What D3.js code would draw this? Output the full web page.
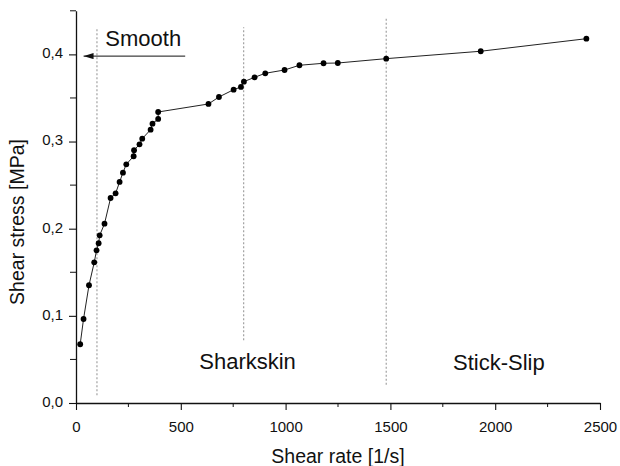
<!DOCTYPE html>
<html>
<head>
<meta charset="utf-8">
<script src="https://cdn.jsdelivr.net/npm/d3@7"></script>
<style>
  body { margin: 0; background: #fff; }
  text { font-family: "Liberation Sans", Arial, sans-serif; fill: #111; }
</style>
</head>
<body>
<script>
// shear rate [1/s]
const shearRate = [20, 36, 62, 87, 98, 108, 113, 136, 165, 189, 208, 224, 240, 275, 277, 303, 316,
  356, 365, 392, 392, 632, 682, 752, 787, 801, 852, 903, 995, 1066, 1181, 1249, 1480, 1931, 2435];
// shear stress [MPa]
const shearStress = [0.0674, 0.0964, 0.1351, 0.1614, 0.1752, 0.1833, 0.1924, 0.2057, 0.2352, 0.2406,
  0.2536, 0.2643, 0.2739, 0.2831, 0.2900, 0.2968, 0.3033, 0.3136, 0.3205, 0.3259, 0.3339, 0.3431,
  0.3511, 0.3595, 0.3626, 0.3687, 0.3737, 0.3783, 0.3821, 0.3875, 0.3898, 0.3901, 0.3951, 0.4036, 0.4180];

const xTicks = [0, 500, 1000, 1500, 2000, 2500];
const xMinor = [250, 750, 1250, 1750, 2250];
const yTicks = [0, 0.1, 0.2, 0.3, 0.4];
const yMinor = [0.05, 0.15, 0.25, 0.35, 0.45];

// regime boundaries (x, y from, y to)
const boundaries = [
  {x: 100, y0: 0.009, y1: 0.431},
  {x: 800, y0: 0.072, y1: 0.431},
  {x: 1480, y0: 0.021, y1: 0.441}
];
const regionLabels = [
  {text: "Smooth", x: 140, y: 0.41},
  {text: "Sharkskin", x: 588, y: 0.039},
  {text: "Stick-Slip", x: 1799, y: 0.038}
];

const width = 620, height = 466;
const margin = {top: 10, right: 20, bottom: 63, left: 76};

const data = shearRate.map((d, i) => ({x: d, y: shearStress[i]}));

const x = d3.scaleLinear().domain([0, 2500]).range([margin.left, width - margin.right]);
const y = d3.scaleLinear().domain([0, 0.45]).range([height - margin.bottom, margin.top + 0.8]);

const svg = d3.select('body').append('svg')
  .attr('width', width)
  .attr('height', height);

const fmt = d3.format('.1f');

// x axis
const xAxis = svg.append('g')
  .attr('transform', `translate(0,${y(0)})`)
  .call(d3.axisBottom(x).tickValues(xTicks).tickSize(7).tickSizeOuter(0).tickPadding(11).tickFormat(d3.format('d')));
xAxis.append('g').selectAll('line').data(xMinor).enter().append('line')
  .attr('x1', d => x(d)).attr('x2', d => x(d)).attr('y1', 0).attr('y2', 4)
  .attr('stroke', '#111');

// y axis
const yAxis = svg.append('g')
  .attr('transform', `translate(${x(0)},0)`)
  .call(d3.axisLeft(y).tickValues(yTicks).tickSize(7).tickSizeOuter(0).tickPadding(6)
    .tickFormat(d => fmt(d).replace('.', ',')));
yAxis.append('g').selectAll('line').data(yMinor).enter().append('line')
  .attr('y1', d => y(d)).attr('y2', d => y(d)).attr('x1', 0).attr('x2', -6)
  .attr('stroke', '#111');

svg.selectAll('.domain').attr('stroke', '#111').attr('stroke-width', 1.3);
svg.selectAll('.tick line').attr('stroke', '#111').attr('stroke-width', 1.1);
svg.selectAll('.tick text')
  .attr('font-size', 15)
  .attr('font-family', '"Liberation Sans", Arial, sans-serif')
  .attr('fill', '#111');
yAxis.selectAll('.tick text').attr('dy', '0.22em');

// axis titles
svg.append('text')
  .attr('x', 338).attr('y', 463)
  .attr('text-anchor', 'middle')
  .attr('font-size', 19.5)
  .text('Shear rate [1/s]');
svg.append('text')
  .attr('transform', `translate(24,222) rotate(-90)`)
  .attr('text-anchor', 'middle')
  .attr('font-size', 19.5)
  .text('Shear stress [MPa]');

// dotted boundaries
svg.append('g').selectAll('line').data(boundaries).enter().append('line')
  .attr('x1', d => x(d.x)).attr('x2', d => x(d.x))
  .attr('y1', d => y(d.y0)).attr('y2', d => y(d.y1))
  .attr('stroke', '#999')
  .attr('stroke-width', 1.1)
  .attr('stroke-dasharray', '2,2');

// data line and points
const line = d3.line().x(d => x(d.x)).y(d => y(d.y));
svg.append('path')
  .datum(data)
  .attr('d', line)
  .attr('fill', 'none')
  .attr('stroke', '#222')
  .attr('stroke-width', 1);

svg.append('g').selectAll('circle').data(data).enter().append('circle')
  .attr('cx', d => x(d.x))
  .attr('cy', d => y(d.y))
  .attr('r', 2.9)
  .attr('fill', '#000');

// arrow for "Smooth"
svg.append('defs').append('marker')
  .attr('id', 'arrow')
  .attr('viewBox', '0 0 10 6')
  .attr('refX', 10).attr('refY', 3)
  .attr('markerWidth', 10).attr('markerHeight', 6)
  .attr('markerUnits', 'userSpaceOnUse')
  .attr('orient', 'auto')
  .append('path').attr('d', 'M0,0 L10,3 L0,6 Z').attr('fill', '#111');

svg.append('line')
  .attr('x1', x(521)).attr('x2', x(36))
  .attr('y1', y(0.398)).attr('y2', y(0.398))
  .attr('stroke', '#111')
  .attr('stroke-width', 1)
  .attr('marker-end', 'url(#arrow)');

// region labels
svg.append('g').selectAll('text').data(regionLabels).enter().append('text')
  .attr('x', d => x(d.x))
  .attr('y', d => y(d.y))
  .attr('font-size', 22)
  .text(d => d.text);
</script>
</body>
</html>
